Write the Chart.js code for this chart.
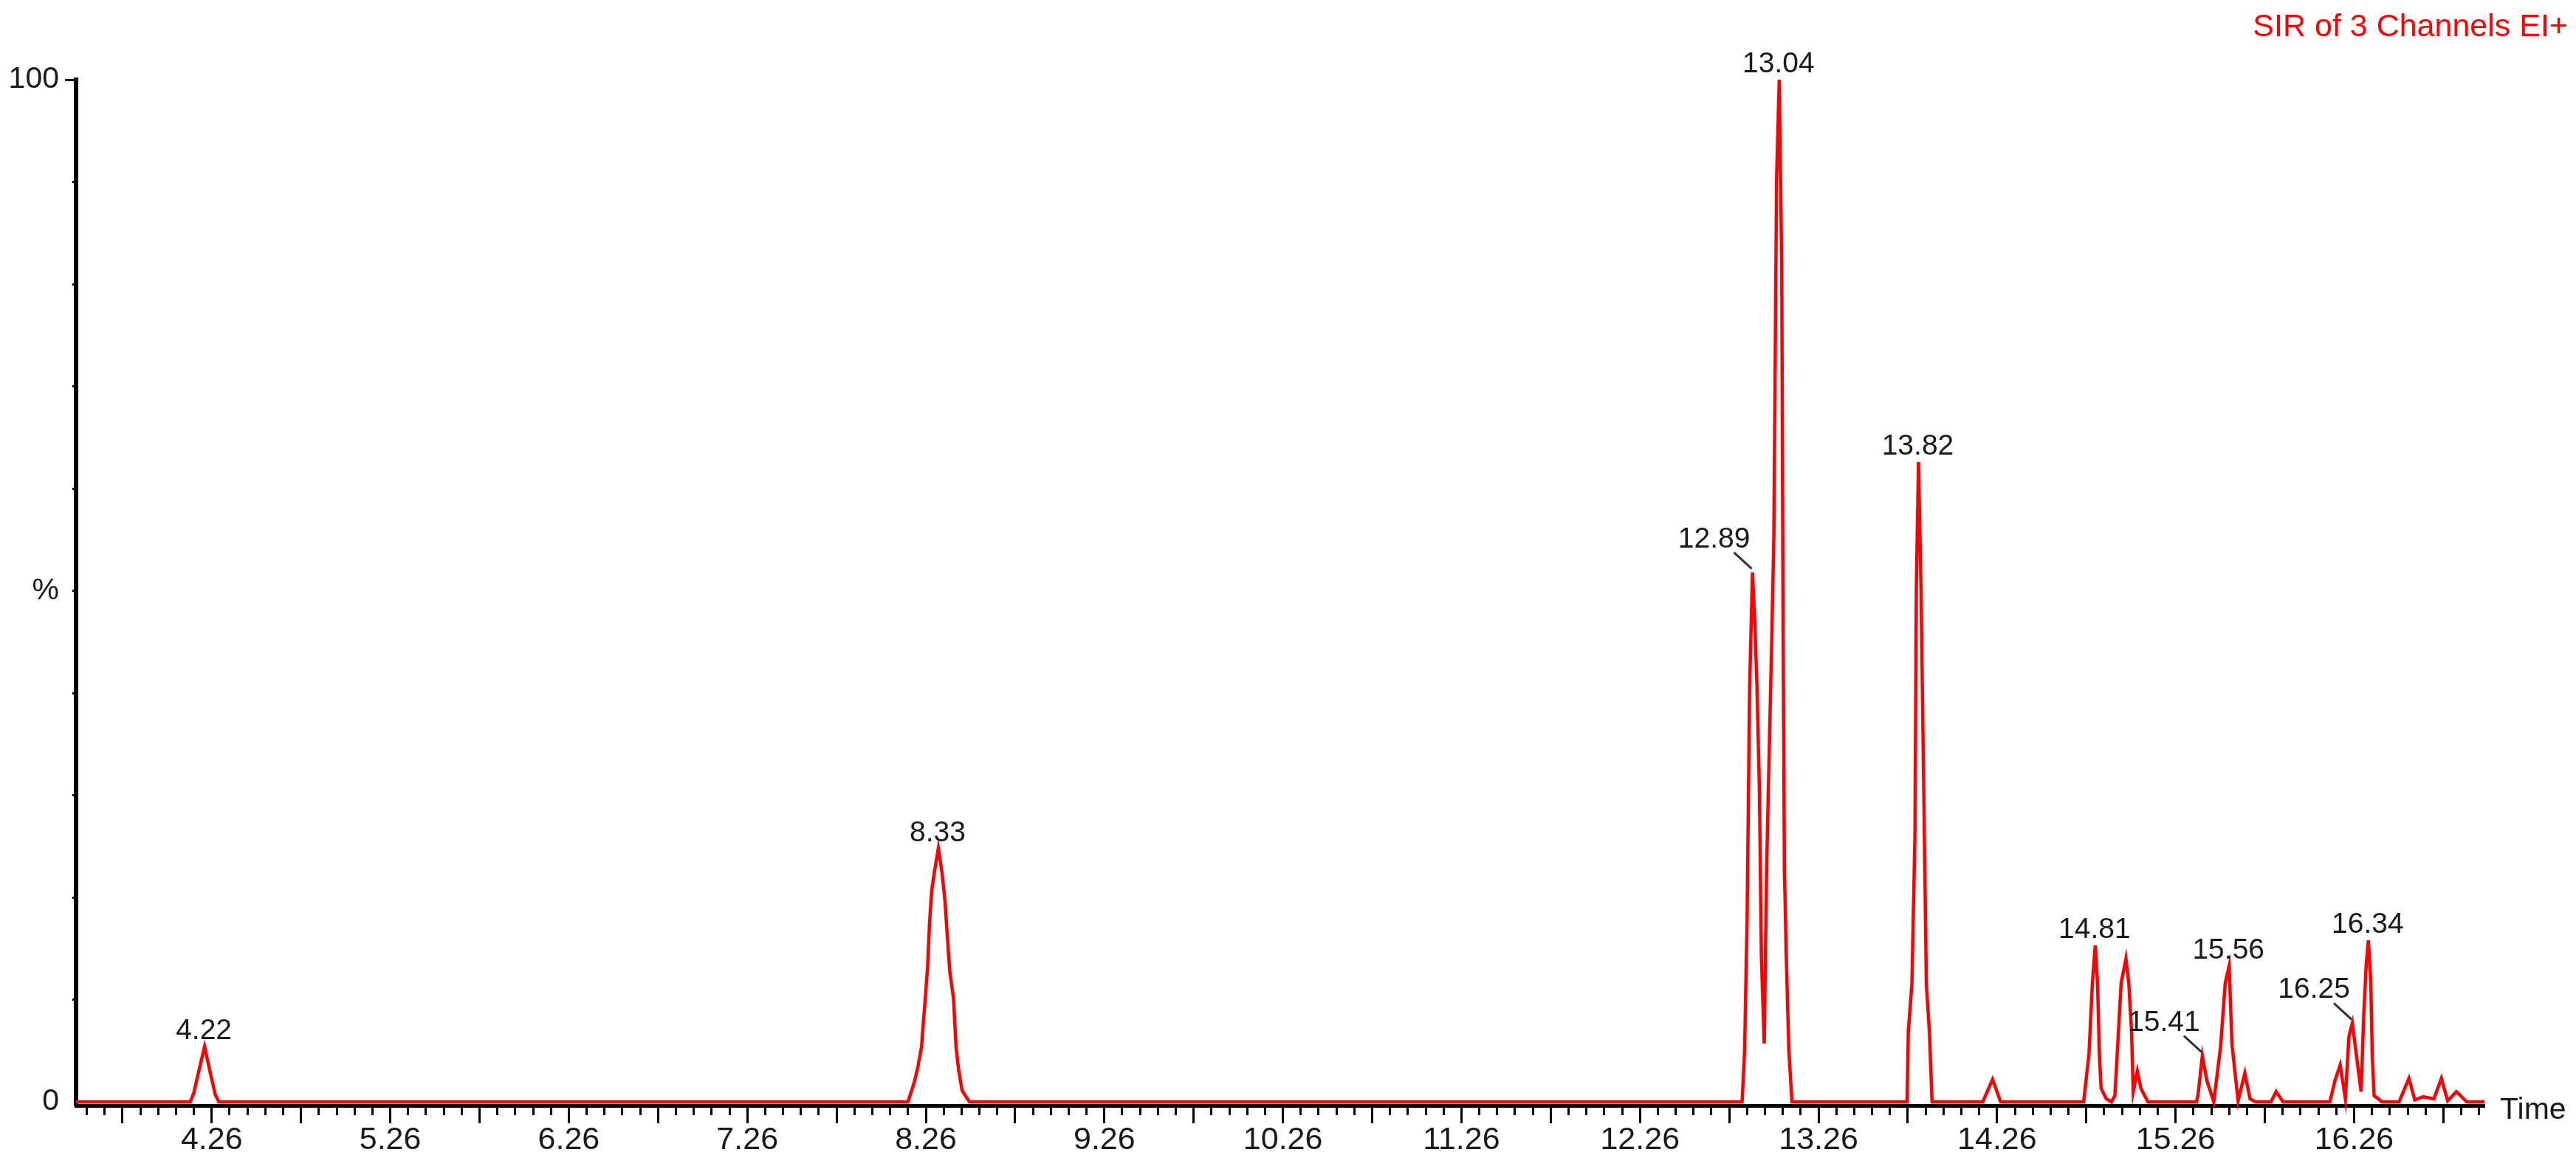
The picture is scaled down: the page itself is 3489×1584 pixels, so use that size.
<!DOCTYPE html>
<html><head><meta charset="utf-8">
<script src="https://cdn.jsdelivr.net/npm/chart.js@4/dist/chart.umd.min.js"></script>
<style>html,body{margin:0;padding:0;background:#fff;overflow:hidden}canvas{display:block}</style>
</head><body>
<canvas id="c" width="3489" height="1584"></canvas>
<script>
// ---- DATA ----
const titleText = 'SIR of 3 Channels EI+';
const xAxisTitle = 'Time';
const times = [
  3.50, 4.14, 4.16, 4.19, 4.22, 4.25, 4.28, 4.30,
  8.16, 8.195, 8.215, 8.236, 8.245, 8.256, 8.270, 8.281, 8.293, 8.308, 8.33, 8.350, 8.367, 8.381, 8.394, 8.415, 8.429, 8.443, 8.463, 8.504,
  12.832, 12.846, 12.860, 12.874, 12.890, 12.903, 12.915, 12.929, 12.940, 12.956, 12.970, 12.984, 12.998, 13.010, 13.025, 13.040, 13.054, 13.062, 13.069, 13.080, 13.094, 13.111,
  13.756, 13.763, 13.783, 13.800, 13.808, 13.820, 13.834, 13.853, 13.864, 13.881, 13.896,
  14.18, 14.235, 14.28,
  14.745, 14.775, 14.794, 14.810, 14.823, 14.833, 14.843, 14.872, 14.901, 14.920, 14.936, 14.955, 14.982, 14.998, 15.013, 15.023, 15.046, 15.066, 15.105,
  15.377, 15.385, 15.410, 15.435, 15.474, 15.512, 15.538, 15.560, 15.576, 15.610, 15.648, 15.677, 15.707,
  15.794, 15.823, 15.862,
  16.124, 16.153, 16.182, 16.211, 16.231, 16.250, 16.280, 16.299, 16.314, 16.328, 16.340, 16.353, 16.362, 16.372, 16.396, 16.415,
  16.512, 16.567, 16.600, 16.648, 16.707, 16.749, 16.784, 16.833, 16.891, 16.99
];
const intensity = [
  0, 0, 0.9, 3.2, 5.4, 3.0, 0.7, 0,
  0, 1.9, 3.4, 5.4, 7.6, 9.9, 13.3, 17.6, 20.7, 22.5, 24.8, 22.5, 19.7, 16.0, 12.8, 10.1, 5.4, 3.2, 1.1, 0,
  0, 5.0, 17.9, 40.3, 51.8, 47.0, 40.8, 30.5, 14.2, 5.7, 23.4, 34.4, 45.2, 55.5, 90.1, 100, 81.6, 45.4, 22.7, 13.8, 5.0, 0,
  0, 6.9, 11.5, 25.9, 50.4, 62.6, 50.4, 25.9, 11.5, 6.9, 0,
  0, 2.2, 0,
  0, 4.7, 11.6, 15.3, 11.6, 4.7, 1.3, 0.3, 0, 0.6, 5.6, 11.6, 14.0, 11.6, 7.0, 1.0, 3.0, 1.3, 0,
  0, 0.6, 4.5, 2.1, 0, 5.4, 11.6, 13.3, 5.6, 0.1, 2.8, 0.3, 0,
  0, 1.0, 0,
  0, 2.1, 3.6, 0.3, 6.4, 7.7, 3.6, 1.0, 8.5, 13.5, 15.8, 11.9, 4.4, 0.6, 0.3, 0,
  0, 2.3, 0.2, 0.5, 0.3, 2.3, 0.1, 1.0, 0, 0
];
const peakTimes   = [4.22, 8.33, 12.89, 13.04, 13.82, 14.81, 15.41, 15.56, 16.25, 16.34];
const peakHeights = [5.4, 24.8, 51.8, 100, 62.6, 15.3, 4.5, 13.3, 7.7, 15.8];
const peakLabels  = ['4.22', '8.33', '12.89', '13.04', '13.82', '14.81', '15.41', '15.56', '16.25', '16.34'];
const leaderPeaks = ['12.89', '15.41', '16.25'];
const xTickLabels = ['4.26', '5.26', '6.26', '7.26', '8.26', '9.26', '10.26', '11.26', '12.26', '13.26', '14.26', '15.26', '16.26'];
const yTickLabels = ['0', '%', '100'];
const yTickLabelValues = [0, 50, 100];
const xMin = 3.50, xMax = 16.99;
const yMin = -0.36, yMax = 100;

// ---- CHART ----
const FONT = "'Liberation Sans', Arial, sans-serif";
const minorXTicks = [];
for (let k = 0; k <= 134; k++) minorXTicks.push(Math.round((3.56 + k * 0.1) * 100) / 100);
const halfXTicks = minorXTicks.filter(v => Math.abs(((v - 0.26) * 2) - Math.round((v - 0.26) * 2)) < 1e-6);
const yTicks = [];
for (let k = 0; k <= 10; k++) yTicks.push(k * 10);

function align(p, w) { return Math.round(p - w / 2) + w / 2; }

const annot = {
  id: 'annot',
  afterDraw(chart) {
    const ctx = chart.ctx, xs = chart.scales.x, ys = chart.scales.y, ca = chart.chartArea;
    ctx.save();
    // longer half-minute ticks on x
    ctx.strokeStyle = '#000'; ctx.lineWidth = 3;
    for (const v of halfXTicks) {
      const px = align(xs.getPixelForValue(v), 3);
      ctx.beginPath(); ctx.moveTo(px, ca.bottom); ctx.lineTo(px, ca.bottom + 24); ctx.stroke();
    }
    // long tick at top of y axis
    const py100 = align(ys.getPixelForValue(100), 3);
    ctx.beginPath(); ctx.moveTo(ca.left - 15, py100); ctx.lineTo(ca.left, py100); ctx.stroke();
    // axis title
    ctx.fillStyle = '#1a1a1a';
    ctx.font = '41px ' + FONT;
    ctx.textAlign = 'left'; ctx.textBaseline = 'middle';
    ctx.fillText(xAxisTitle, ca.right + 21, ca.bottom + 7);
    // chart title
    ctx.fillStyle = '#ff0000';
    ctx.font = '43px ' + FONT;
    ctx.textAlign = 'right'; ctx.textBaseline = 'alphabetic';
    ctx.fillText(titleText, 3478, 49);
    // peak labels
    ctx.font = '39px ' + FONT;
    ctx.textAlign = 'center';
    ctx.fillStyle = '#1a1a1a';
    ctx.strokeStyle = '#333'; ctx.lineWidth = 3;
    peakLabels.forEach((lab, i) => {
      const px = xs.getPixelForValue(peakTimes[i]);
      const py = ys.getPixelForValue(peakHeights[i]);
      if (leaderPeaks.includes(lab)) {
        ctx.fillText(lab, px - 52, py - 34);
        ctx.beginPath(); ctx.moveTo(px - 25, py - 27); ctx.lineTo(px - 1, py - 5); ctx.stroke();
      } else {
        ctx.fillText(lab, px - 1, py - 10);
      }
    });
    ctx.restore();
  }
};

new Chart(document.getElementById('c'), {
  type: 'line',
  data: {
    datasets: [{
      data: times.map((t, i) => ({ x: t, y: intensity[i] })),
      borderColor: '#ff0000',
      borderWidth: 4.5,
      pointRadius: 0,
      tension: 0,
      fill: false,
      clip: 20
    }]
  },
  options: {
    responsive: false,
    animation: false,
    devicePixelRatio: 1,
    layout: { padding: { left: 0, right: 124, top: 108, bottom: 0 } },
    plugins: { legend: { display: false }, tooltip: { enabled: false }, title: { display: false } },
    scales: {
      x: {
        type: 'linear', min: xMin, max: xMax,
        afterBuildTicks: s => { s.ticks = minorXTicks.map(v => ({ value: v })); },
        afterFit: s => { s.height = 1584 - 1498; },
        grid: { drawOnChartArea: false, drawTicks: true, tickLength: 13, tickWidth: 3, tickColor: '#000' },
        border: { display: true, color: '#000', width: 5 },
        ticks: {
          autoSkip: false, maxRotation: 0, minRotation: 0, padding: 8,
          color: '#1a1a1a', font: { family: FONT, size: 43 },
          callback: v => { const s = (Math.round(v * 100) / 100).toFixed(2); return xTickLabels.includes(s) ? s : ''; }
        }
      },
      y: {
        type: 'linear', min: yMin, max: yMax,
        afterBuildTicks: s => { s.ticks = yTicks.map(v => ({ value: v })); },
        afterFit: s => { s.width = 103; },
        grid: { drawOnChartArea: false, drawTicks: true, tickLength: 5, tickWidth: 3,
                tickColor: c => (c.tick && c.tick.value === 0) ? 'rgba(0,0,0,0)' : '#000' },
        border: { display: true, color: '#000', width: 6 },
        ticks: {
          autoSkip: false, padding: 18,
          color: '#1a1a1a', font: { family: FONT, size: 41 },
          callback: v => { const i = yTickLabelValues.indexOf(v); return i >= 0 ? yTickLabels[i] : ''; }
        }
      }
    }
  },
  plugins: [annot]
});
</script>
</body></html>
